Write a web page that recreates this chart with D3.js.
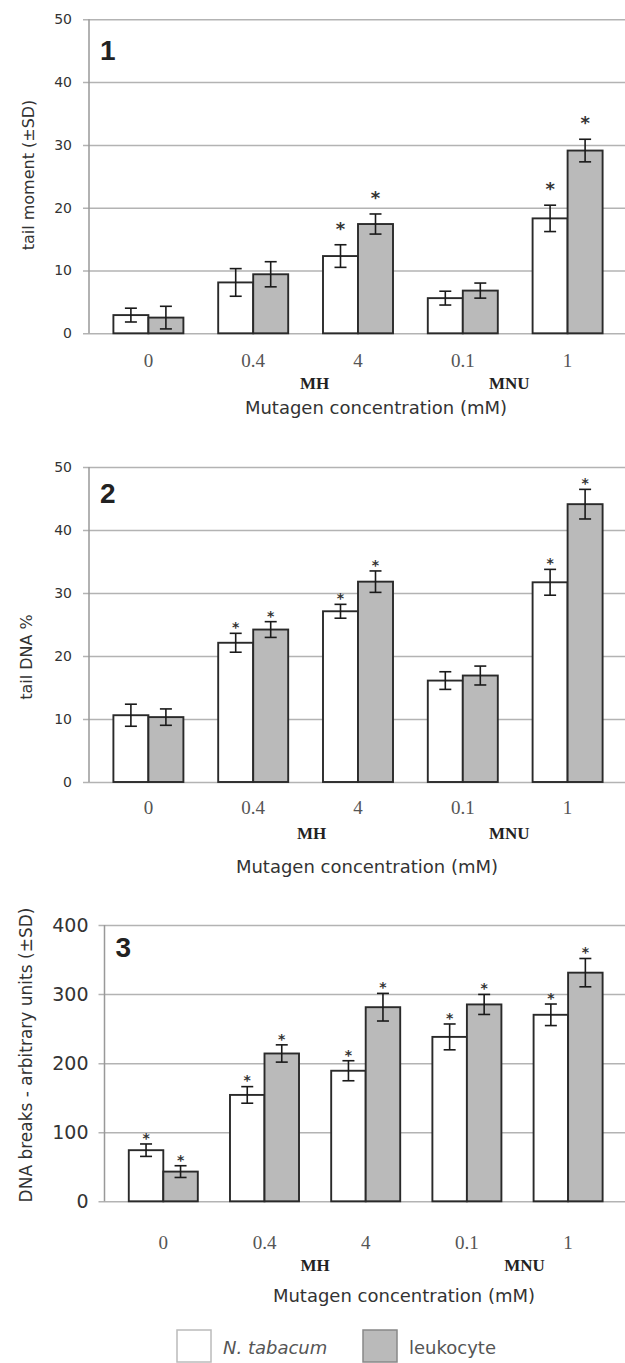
<!DOCTYPE html>
<html>
<head>
<meta charset="utf-8">
<script src="https://cdn.jsdelivr.net/npm/d3@7"></script>
<style>
  body { margin: 0; background: #fff; }
  svg { display: block; }
</style>
</head>
<body>
<svg width="625" height="1363"></svg>
<script>
// categories and series
var categories = ["0", "0.4", "4", "0.1", "1"];
var seriesNames = ["N. tabacum", "leukocyte"];
var groupLabels = ["MH", "MNU"];
var xTitle = "Mutagen concentration (mM)";

// panel 1 - tail moment
var tailMomentTab = [2.9, 8.1, 12.3, 5.6, 18.3];
var tailMomentTabSd = [1.1, 2.2, 1.8, 1.1, 2.1];
var tailMomentLeu = [2.5, 9.4, 17.4, 6.8, 29.1];
var tailMomentLeuSd = [1.8, 2.0, 1.6, 1.2, 1.8];
var tailMomentTabSig = [false, false, true, false, true];
var tailMomentLeuSig = [false, false, true, false, true];
var tailMomentTicks = [0, 10, 20, 30, 40, 50];

// panel 2 - tail DNA %
var tailDnaTab = [10.6, 22.1, 27.1, 16.1, 31.7];
var tailDnaTabSd = [1.75, 1.5, 1.1, 1.4, 2.05];
var tailDnaLeu = [10.3, 24.2, 31.8, 16.9, 44.1];
var tailDnaLeuSd = [1.3, 1.25, 1.7, 1.5, 2.35];
var tailDnaTabSig = [false, true, true, false, true];
var tailDnaLeuSig = [false, true, true, false, true];
var tailDnaTicks = [0, 10, 20, 30, 40, 50];

// panel 3 - DNA breaks
var breaksTab = [74, 154, 189, 238, 270];
var breaksTabSd = [9, 12, 14.5, 18.7, 15.6];
var breaksLeu = [43, 214, 281, 285, 331];
var breaksLeuSd = [8.5, 12.5, 20, 14.5, 20.5];
var breaksTabSig = [true, true, true, true, true];
var breaksLeuSig = [true, true, true, true, true];
var breaksTicks = [0, 100, 200, 300, 400];

var W = 625;
var fills = ["#ffffff", "#bababa"];
var sans = "'DejaVu Sans', sans-serif";
var serif = "'Liberation Serif', 'Times New Roman', serif";

var svg = d3.select("svg");

function drawPanel(o) {
  var g = svg.append("g");

  var x = d3.scaleBand().domain(categories).range(o.xRange)
    .paddingInner(o.pad).paddingOuter(o.pad / 2);
  var xs = d3.scaleBand().domain(seriesNames).range([0, x.bandwidth()]);
  var y = d3.scaleLinear().domain([0, o.yMax]).range([o.bottom, o.top]);

  // gridlines + tick labels
  var axis = g.append("g")
    .attr("transform", "translate(" + (o.left - 6) + ",0)")
    .call(d3.axisLeft(y).tickValues(o.ticks).tickSize(-(W - o.left + 6)).tickPadding(o.tickPad));
  axis.select(".domain").remove();
  axis.selectAll(".tick line").attr("stroke", "#b3b3b3").attr("stroke-width", 1.5);
  axis.selectAll(".tick text")
    .attr("fill", "#333")
    .style("font-family", sans)
    .style("font-size", o.tickFont + "px");

  // y axis line
  g.append("line")
    .attr("x1", o.left).attr("x2", o.left)
    .attr("y1", o.top).attr("y2", o.bottom)
    .attr("stroke", "#999").attr("stroke-width", 1.5);

  var rows = [];
  categories.forEach(function(c, i) {
    rows.push({cat: c, s: seriesNames[0], v: o.tab[i], sd: o.tabSd[i], sig: o.tabSig[i], k: 0});
    rows.push({cat: c, s: seriesNames[1], v: o.leu[i], sd: o.leuSd[i], sig: o.leuSig[i], k: 1});
  });

  function cx(d) { return x(d.cat) + xs(d.s) + xs.bandwidth() / 2; }

  g.selectAll("rect.bar").data(rows).enter().append("rect")
    .attr("class", "bar")
    .attr("x", function(d) { return x(d.cat) + xs(d.s); })
    .attr("y", function(d) { return y(d.v); })
    .attr("width", xs.bandwidth())
    .attr("height", function(d) { return y(0) - y(d.v); })
    .attr("fill", function(d) { return fills[d.k]; })
    .attr("stroke", "#2a2a2a")
    .attr("stroke-width", 1.9);

  // error bars
  var eb = g.selectAll("g.err").data(rows).enter().append("g").attr("class", "err")
    .attr("stroke", "#1a1a1a").attr("stroke-width", 1.6);
  eb.append("line")
    .attr("x1", cx).attr("x2", cx)
    .attr("y1", function(d) { return y(d.v - d.sd); })
    .attr("y2", function(d) { return y(d.v + d.sd); });
  eb.append("line")
    .attr("x1", function(d) { return cx(d) - 6; }).attr("x2", function(d) { return cx(d) + 6; })
    .attr("y1", function(d) { return y(d.v + d.sd); })
    .attr("y2", function(d) { return y(d.v + d.sd); });
  eb.append("line")
    .attr("x1", function(d) { return cx(d) - 6; }).attr("x2", function(d) { return cx(d) + 6; })
    .attr("y1", function(d) { return y(d.v - d.sd); })
    .attr("y2", function(d) { return y(d.v - d.sd); });

  // significance stars
  g.selectAll("text.star").data(rows.filter(function(d) { return d.sig; })).enter().append("text")
    .attr("class", "star")
    .attr("x", cx)
    .attr("y", function(d) { return y(d.v + d.sd) - o.starOff + o.starFont * 0.56; })
    .attr("text-anchor", "middle")
    .attr("fill", "#333")
    .style("font-family", sans)
    .style("font-weight", "bold")
    .style("font-size", o.starFont + "px")
    .text("*");

  // panel number
  g.append("text")
    .attr("x", o.left + 11).attr("y", o.top + o.numDy)
    .attr("fill", "#222")
    .style("font-family", "'Liberation Sans', Arial, sans-serif")
    .style("font-weight", "bold")
    .style("font-size", "28px")
    .text(o.num);

  // category labels
  g.selectAll("text.cat").data(categories).enter().append("text")
    .attr("class", "cat")
    .attr("x", function(c) { return x(c) + x.bandwidth() / 2; })
    .attr("y", o.bottom + o.catDy)
    .attr("text-anchor", "middle")
    .attr("fill", "#555")
    .style("font-family", serif)
    .style("font-size", "19px")
    .text(function(c) { return c; });

  // MH / MNU
  var mids = [
    (x(categories[1]) + x(categories[2])) / 2 + x.bandwidth() / 2 + o.mhDx,
    (x(categories[3]) + x(categories[4])) / 2 + x.bandwidth() / 2 + o.mnuDx
  ];
  g.selectAll("text.grp").data(groupLabels).enter().append("text")
    .attr("class", "grp")
    .attr("x", function(d, i) { return mids[i]; })
    .attr("y", o.bottom + o.grpDy)
    .attr("text-anchor", "middle")
    .attr("fill", "#222")
    .style("font-family", serif)
    .style("font-weight", "bold")
    .style("font-size", "17px")
    .text(function(d) { return d; });

  // x title
  g.append("text")
    .attr("x", o.titleX).attr("y", o.bottom + o.titleDy)
    .attr("text-anchor", "middle")
    .attr("fill", "#333")
    .style("font-family", sans)
    .style("font-size", "18px")
    .text(xTitle);

  // y title
  g.append("text")
    .attr("transform", "translate(" + o.yTitleX + "," + o.yTitleY + ") rotate(-90)")
    .attr("text-anchor", "middle")
    .attr("fill", "#333")
    .style("font-family", sans)
    .style("font-size", o.yTitleFont + "px")
    .text(o.yTitle);
}

drawPanel({
  num: "1", top: 19.3, bottom: 333.3, left: 89, xRange: [96, 620], pad: 0.332,
  yMax: 50, ticks: tailMomentTicks, tickPad: 11, tickFont: 14,
  tab: tailMomentTab, tabSd: tailMomentTabSd, leu: tailMomentLeu, leuSd: tailMomentLeuSd,
  tabSig: tailMomentTabSig, leuSig: tailMomentLeuSig, starOff: 20, starFont: 18,
  numDy: 41, catDy: 34, grpDy: 56, titleDy: 81, titleX: 376, mhDx: 9, mnuDx: -6,
  yTitle: "tail moment (±SD)", yTitleX: 34, yTitleY: 175, yTitleFont: 16
});

drawPanel({
  num: "2", top: 467, bottom: 782, left: 89, xRange: [96, 620], pad: 0.332,
  yMax: 50, ticks: tailDnaTicks, tickPad: 11, tickFont: 14,
  tab: tailDnaTab, tabSd: tailDnaTabSd, leu: tailDnaLeu, leuSd: tailDnaLeuSd,
  tabSig: tailDnaTabSig, leuSig: tailDnaLeuSig, starOff: 9, starFont: 14,
  numDy: 36, catDy: 32, grpDy: 57, titleDy: 91, titleX: 367, mhDx: 6, mnuDx: -6,
  yTitle: "tail DNA %", yTitleX: 32, yTitleY: 657, yTitleFont: 16
});

drawPanel({
  num: "3", top: 925, bottom: 1201.3, left: 104.5, xRange: [112.7, 618.7], pad: 0.318,
  yMax: 400, ticks: breaksTicks, tickPad: 10, tickFont: 19,
  tab: breaksTab, tabSd: breaksTabSd, leu: breaksLeu, leuSd: breaksLeuSd,
  tabSig: breaksTabSig, leuSig: breaksLeuSig, starOff: 9, starFont: 14,
  numDy: 32, catDy: 48, grpDy: 70, titleDy: 101, titleX: 404, mhDx: 0, mnuDx: 7,
  yTitle: "DNA breaks - arbitrary units (±SD)", yTitleX: 32, yTitleY: 1055, yTitleFont: 17
});

// legend
var legendX = [177, 363];
var lg = svg.append("g").selectAll("g").data(seriesNames).enter().append("g")
  .attr("transform", function(d, i) { return "translate(" + legendX[i] + ",1330)"; });
lg.append("rect")
  .attr("width", 34).attr("height", 32)
  .attr("fill", function(d, i) { return fills[i]; })
  .attr("stroke", function(d, i) { return i ? "#888" : "#bbb"; })
  .attr("stroke-width", 1.5);
lg.append("text")
  .attr("x", 46).attr("y", 24)
  .attr("fill", "#555")
  .style("font-family", sans)
  .style("font-size", "18px")
  .style("font-style", function(d, i) { return i ? "normal" : "italic"; })
  .text(function(d) { return d; });
</script>
</body>
</html>
